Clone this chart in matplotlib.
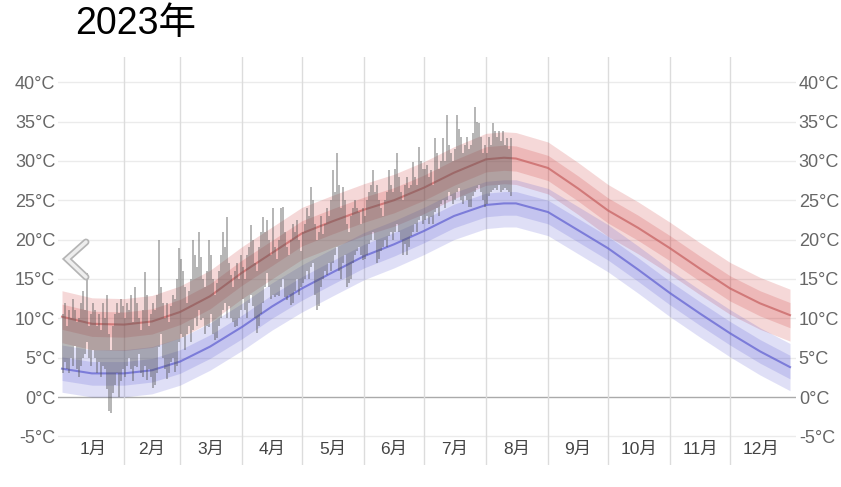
import numpy as np
import matplotlib
matplotlib.use("Agg")
import matplotlib.pyplot as plt
from matplotlib.lines import Line2D

plt.rcParams['font.family'] = ['Liberation Sans', 'Noto Sans CJK JP', 'DejaVu Sans']

# 平年値 (日番号, 最高, 最低)
norm_days = [0, 15, 31, 45, 59, 74, 90, 105, 120, 135, 151, 166, 181, 196,
             212, 221, 227, 243, 258, 273, 288, 304, 319, 334, 349, 364]
norm_high = [10.2, 9.3, 9.2, 9.6, 10.8, 12.8, 15.8, 18.3, 20.8, 22.3, 23.8, 25.0, 26.6, 28.5,
             30.2, 30.4, 30.3, 29.1, 26.5, 23.7, 21.5, 18.9, 16.3, 13.8, 11.9, 10.4]
norm_low = [3.6, 3.0, 3.0, 3.4, 4.5, 6.4, 8.9, 11.5, 13.8, 15.8, 17.9, 19.4, 21.1, 23.0,
            24.4, 24.6, 24.6, 23.5, 21.2, 18.9, 16.2, 13.2, 10.6, 8.1, 5.8, 3.8]
high_inner, high_outer = 1.6, 3.3
low_inner, low_outer = 1.5, 3.0

# 2023年 日別 最高 / 最低 (1月1日 〜 8月13日)
daily_high = [
    # 1月
    10.5, 12, 9, 11, 10, 12.5, 11, 9.5, 10, 12, 13.5, 11, 15.7, 9, 10.5, 12,
    11, 9, 10.5, 8.5, 12, 10, 13, 8, 6, 9, 10.5, 12, 10.7, 12.5, 11.5,
    # 2月
    10, 12, 11, 13, 9.5, 14, 12, 10, 8.5, 11, 15.9, 13, 9, 10.5, 12, 11,
    13, 20, 14, 12, 10, 12, 9.5, 11.5, 13, 12.5, 15, 18.9,
    # 3月
    17.5, 16, 14, 12, 13.5, 15, 20, 18, 16.5, 21, 17.8, 15, 14, 16, 20, 18,
    15, 13, 14.5, 16, 18, 21, 19, 22.9, 17, 15.5, 14, 16, 17, 15, 18,
    # 4月
    16.5, 15, 18, 19, 21.8, 20, 17, 16, 19, 21, 22.9, 21, 22.5, 20, 18, 24,
    19, 17.5, 20, 24, 24.1, 21, 19, 18, 20, 22, 21, 22.5, 20, 18.5,
    # 5月
    21, 22, 24, 23, 26.7, 25, 22, 20, 21, 23, 20.7, 22, 24, 23, 25, 28.8,
    26, 31, 27, 24, 26.7, 25, 22, 21, 23, 24, 25, 24, 23.5, 22, 24,
    # 6月
    23, 25, 26, 27, 28.8, 26, 27, 25, 24, 23, 25, 26, 28.8, 27, 26, 29,
    31, 28, 26, 25, 27, 28, 26.5, 27, 29.9, 28, 27, 31.8, 30, 29,
    # 7月
    29, 29.5, 28, 28.8, 27, 32.9, 31, 29, 30, 32.9, 30, 35.8, 32, 31, 30, 31.5,
    35.8, 34, 33, 31, 32, 33, 31.5, 32, 33.5, 36.9, 35, 34.8, 33, 31, 32,
    # 8月
    31, 33, 32, 34.8, 33.8, 33, 33.8, 32.5, 33.8, 32, 32.9, 31.5, 32.9,
]
daily_low = [
    # 1月
    3, 4.5, 3.5, 3, 5, 4, 6.5, 3.5, 2.5, 4, 5, 5.5, 7, 5, 4, 6,
    5, 3, 4.5, 2.5, 4, 3.5, 1, -1.8, -2, 0.5, 1.5, 3, 0, 2, 3.5,
    # 2月
    2.5, 4, 5, 3.5, 2, 4, 3.8, 5.5, 3, 2.5, 4, 2.2, 3.5, 2.5, 1.1, 1.5,
    3, 6.4, 8, 5, 3.5, 2.3, 3, 4.5, 5, 3.2, 4, 7,
    # 3月
    8, 7.6, 6, 8, 9, 7, 8.5, 10, 9, 11, 9.8, 10, 8, 9, 8.9, 10.5,
    8, 7.2, 7.5, 9, 10, 11, 12, 10, 11.5, 10, 9.5, 8.9, 9, 10, 11,
    # 4月
    12.5, 11, 10, 12, 13, 11.5, 10, 8.1, 9, 10.5, 12, 14, 15.7, 14, 12.5, 13,
    12.7, 13, 12.8, 14, 15, 12.7, 12.3, 13, 11.7, 12, 13.5, 15, 13, 14,
    # 5月
    14.5, 15, 16, 15, 16.5, 17, 13, 11, 11.5, 14, 15, 16, 15.5, 17, 16, 17,
    18, 19, 16, 15, 17, 18, 14, 14.5, 15, 17, 18, 18.5, 19, 18, 17.4,
    # 6月
    17.5, 18, 19.5, 20, 21, 20, 17, 17.5, 18.5, 19, 20, 19, 20.5, 21, 20, 21,
    22, 21, 20, 18, 19.5, 18, 19, 20.5, 21, 22, 21, 22.5, 23, 22,
    # 7月
    22.5, 23, 22, 22.9, 22, 23.5, 24, 23, 24.5, 25, 24, 25, 26, 25.5, 24.5, 25,
    26, 26.5, 25, 24.5, 25.5, 25, 24.1, 24.1, 25.5, 26, 26.5, 27, 26, 25, 24.1,
    # 8月
    24.5, 25.5, 26, 26.3, 26.5, 26.3, 27, 26, 26.3, 26.5, 26.3, 26, 25.5,
]

month_names = ['1月', '2月', '3月', '4月', '5月', '6月',
               '7月', '8月', '9月', '10月', '11月', '12月']
month_starts = [0, 31, 59, 90, 120, 151, 181, 212, 243, 273, 304, 334, 365]
y_ticks = [-5, 0, 5, 10, 15, 20, 25, 30, 35, 40]

W, H = 841, 487
fig = plt.figure(figsize=(W / 100, H / 100), dpi=100)
ax = fig.add_axes([58 / W, (H - 465) / H, (796 - 58) / W, (465 - 57) / H])
ax.set_xlim(-2, 367)
ax.set_ylim(-8.64, 43.2)

for t in y_ticks:
    ax.axhline(t, color='#aaaaaa' if t == 0 else '#ebebeb', lw=1, zorder=0)
for m in month_starts[1:-1]:
    ax.axvline(m, color='#dcdcdc', lw=1, zorder=0)

nd = np.array(norm_days)
nh = np.array(norm_high)
nl = np.array(norm_low)
red = (0.80, 0.16, 0.16)
blue = (0.24, 0.24, 0.80)
ax.fill_between(nd, nh - high_outer, nh + high_outer, color=red, alpha=0.18, lw=0, zorder=1)
ax.fill_between(nd, nh - high_inner, nh + high_inner, color=red, alpha=0.18, lw=0, zorder=1)
ax.fill_between(nd, nl - low_outer, nl + low_outer, color=blue, alpha=0.16, lw=0, zorder=1)
ax.fill_between(nd, nl - low_inner, nl + low_inner, color=blue, alpha=0.16, lw=0, zorder=1)
ax.plot(nd, nh, color='#c86464', lw=1.5, alpha=0.75, zorder=2)
ax.plot(nd, nl, color='#6464d2', lw=1.5, alpha=0.75, zorder=2)

# 日別の幅: 1日ずつの段差として1つの図形で描く (隙間が出ないように)
hi = np.array(daily_high)
lo = np.array(daily_low)
edges = np.arange(len(hi) + 1)
ax.fill_between(edges, np.append(lo, lo[-1]), np.append(hi, hi[-1]), step='post',
                color='#555555', alpha=0.42, lw=0, zorder=3)

ax.set_yticks(y_ticks)
ax.set_yticklabels([f'{t}°C' for t in y_ticks])
ax.tick_params(axis='y', length=0, pad=2, labelleft=True, labelright=True,
               labelsize=13, labelcolor='#666666')
ax.set_xticks([])
for s in ax.spines.values():
    s.set_visible(False)

for i, name in enumerate(month_names):
    mid = (month_starts[i] + month_starts[i + 1]) / 2
    ax.text(mid, 0.039, name, transform=ax.get_xaxis_transform(),
            ha='center', va='center', fontsize=12.5, color='#444444')

fig.text(75 / W, 1 - 24 / H, '2023年', ha='left', va='center', fontsize=27, color='black')

# 前へ の矢印
cx = [86 / W, 67 / W, 86 / W]
cy = [1 - 242 / H, 1 - 259 / H, 1 - 277 / H]
fig.add_artist(Line2D(cx, cy, transform=fig.transFigure, color='#b5b5b5', lw=5,
                      solid_capstyle='round', solid_joinstyle='miter'))
fig.add_artist(Line2D(cx, cy, transform=fig.transFigure, color='#eeeeee', lw=2.5,
                      solid_capstyle='round', solid_joinstyle='miter'))

fig.savefig('out.png', dpi=100)
